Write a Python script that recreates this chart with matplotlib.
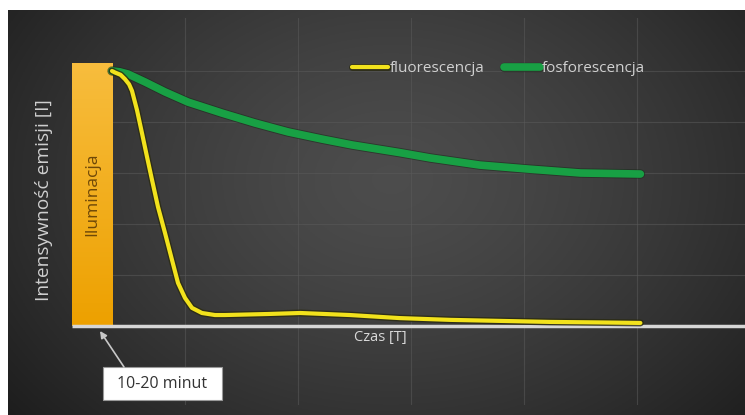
import numpy as np
import matplotlib
matplotlib.use("Agg")
from matplotlib import pyplot as plt
from matplotlib.patches import Rectangle
import matplotlib.patheffects as pe

plt.rcParams['font.family'] = ['Open Sans', 'DejaVu Sans']

# time axis in arbitrary units T, intensity normalised to 1
illum = (0.0, 0.354)
fluor_t = [0.354, 0.381, 0.430, 0.469, 0.505, 0.531, 0.575, 0.619, 0.664, 0.708, 0.761,
           0.823, 0.885, 0.938, 1.0, 1.062, 1.150, 1.265, 1.354, 1.73, 2.02, 2.46, 2.90,
           3.35, 3.79, 4.23, 4.67, 5.03]
fluor_i = [1.0, 0.994, 0.985, 0.968, 0.948, 0.922, 0.847, 0.757, 0.663, 0.573, 0.467,
           0.365, 0.259, 0.169, 0.110, 0.071, 0.051, 0.043, 0.043, 0.047, 0.051, 0.043,
           0.031, 0.024, 0.020, 0.016, 0.014, 0.012]
phos_t = [0.354, 0.420, 0.496, 0.646, 0.823, 1.027, 1.327, 1.619, 1.912, 2.212, 2.478,
          2.90, 3.17, 3.61, 4.05, 4.50, 5.03]
phos_i = [1.0, 0.997, 0.988, 0.957, 0.918, 0.878, 0.835, 0.796, 0.761, 0.733, 0.710,
          0.680, 0.659, 0.631, 0.615, 0.600, 0.596]

labels = ["fluorescencja", "fosforescencja"]
ylab = "Intensywność emisji [I]"
xlab = "Czas [T]"
illum_lab = "Iluminacja"
note = "10-20 minut"

W, H = 745, 415
fig = plt.figure(figsize=(W/100, H/100), dpi=100, facecolor="white")

# dark radial background
bg = fig.add_axes([8/W, 0, (W-8)/W, (H-10)/H])
yy, xx = np.mgrid[0:1:200j, 0:1:300j]
r = np.sqrt(((xx-0.52)/0.55)**2 + ((yy-0.42)/0.75)**2)
v = np.clip(0.30 - 0.14*r**1.4, 0.11, 1)
bg.imshow(np.dstack([v, v, v]), aspect="auto", extent=[0, 1, 0, 1], origin="upper")
bg.axis("off")

# main axes: x=0 at px 72, 113 px per unit; y=0 at px 326, 255 px per unit
x0, sx = 72, 113.0
y0, sy = 326, 255.0
top, bot = 18, 405
ax = fig.add_axes([x0/W, (H-bot)/H, (W-x0)/W, (bot-top)/H])
ax.set_xlim(0, (W-x0)/sx)
ax.set_ylim(-(bot-y0)/sy, (y0-top)/sy)
ax.patch.set_alpha(0)
for s in ax.spines.values():
    s.set_visible(False)
ax.set_xticks([])
ax.set_yticks([])

for gx in range(1, 6):
    ax.axvline(gx, color="#5a5a5a", lw=0.8, alpha=0.55, zorder=1)
for gy in [0.2, 0.4, 0.6, 0.8, 1.0]:
    ax.axhline(gy, color="#5a5a5a", lw=0.8, alpha=0.55, zorder=1)

# illumination bar with gradient
bar = ax.bar(illum[0], 1.03, width=illum[1]-illum[0], align="edge", color="#f2ae14", zorder=2)[0]
grad = np.linspace(0, 1, 100)[:, None]
cols = np.array([[0.97, 0.74, 0.24]]) * (1-grad[..., None]) + np.array([[0.93, 0.63, 0.0]]) * grad[..., None]
im = ax.imshow(cols, extent=[illum[0], illum[1], 0, 1.03], aspect="auto", origin="upper", zorder=2)
im.set_clip_path(bar)
ax.text((illum[0]+illum[1])/2, (y0-194)/sy, illum_lab, rotation=90, ha="center", va="center",
        color="#6e4808", fontsize=12.5, zorder=3)

# x axis
ax.plot([0, ax.get_xlim()[1]], [0, 0], color="#d6d6d6", lw=2.5, solid_capstyle="butt", zorder=3)

ax.plot(phos_t, phos_i, color="#18a044", lw=5.5, solid_capstyle="round", solid_joinstyle="round",
        zorder=4, path_effects=[pe.Stroke(linewidth=6.8, foreground="#1c2a1c", alpha=0.6), pe.Normal()],
        label=labels[1])
ax.plot(fluor_t, fluor_i, color="#f2e21c", lw=3, solid_capstyle="round", solid_joinstyle="round",
        zorder=5, path_effects=[pe.Stroke(linewidth=5, foreground="#2a2a10", alpha=0.8), pe.Normal()],
        label=labels[0])

h, l = ax.get_legend_handles_labels()
leg = ax.legend(h[::-1], l[::-1], loc="center left", bbox_to_anchor=((352-x0)/sx, (y0-69)/sy),
                bbox_transform=ax.transData, ncol=2, frameon=False, fontsize=11,
                handlelength=2.35, handletextpad=0.12, columnspacing=1.3, borderpad=0,
                borderaxespad=0, labelcolor="#d0d0d0")

ax.text((380-x0)/sx, (y0-337)/sy, xlab, ha="center", va="center", color="#d8d8d8", fontsize=10.5)
fig.text(44/W, 1-200/H, ylab, rotation=90, ha="center", va="center", color="#cfcfcf", fontsize=13.8)

# note box with arrow pointing at the end of illumination
bx0, bx1, by0, by1 = (103-x0)/sx, (222-x0)/sx, (y0-400)/sy, (y0-367)/sy
ax.add_patch(Rectangle((bx0, by0), bx1-bx0, by1-by0, fc="white", ec="#999999", lw=0.8, zorder=5))
ax.text((bx0+bx1)/2, (by0+by1)/2, note, ha="center", va="center", fontsize=11.5,
        color="#333333", zorder=6)
ax.annotate("", xy=((100-x0)/sx, (y0-331)/sy), xytext=((124-x0)/sx, by1),
            arrowprops=dict(arrowstyle="-|>", color="#c8c8c8", lw=1.2,
                            shrinkA=0, shrinkB=0, mutation_scale=10), zorder=5)

fig.savefig("out.png", dpi=100, facecolor="white")
